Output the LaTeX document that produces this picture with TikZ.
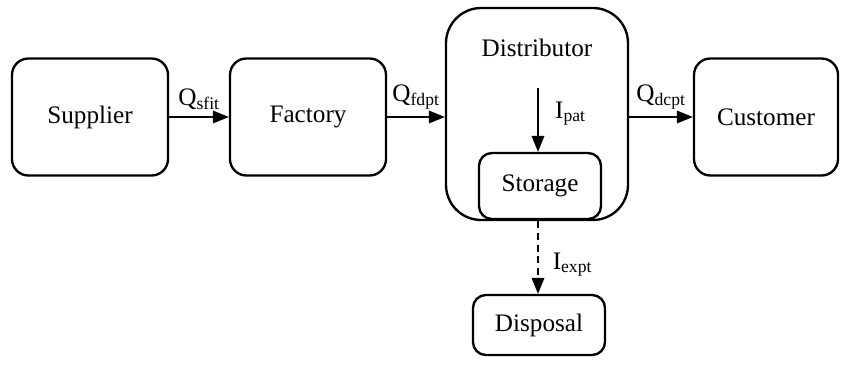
\documentclass[tikz,border=0pt]{standalone}
\usepackage{fontspec}
\setmainfont{Liberation Serif}
\usetikzlibrary{arrows.meta,positioning,calc}
\tikzset{
stage/.style={draw,line width=2pt,rounded corners=14pt,minimum width=4.68cm,minimum height=3.51cm,align=center,font=\fontsize{21.5}{25}\selectfont},
store/.style={draw,line width=2pt,rounded corners=11pt,align=center,font=\fontsize{21.5}{25}\selectfont},
flow/.style={-{Triangle[length=4.8mm,width=3.8mm]},line width=1.2pt},
waste/.style={flow,dashed,dash pattern=on 6pt off 4pt},
qty/.style={font=\fontsize{21.5}{25}\selectfont,inner sep=6pt}
}
\begin{document}
\begin{tikzpicture}
\useasboundingbox (0,0) rectangle (25.38,-10.98);
\node[stage](supplier) at (2.70,-3.51){Supplier};
\node[stage](factory) at (9.24,-3.51){Factory};
\node[stage,minimum width=4.32cm](customer) at (22.98,-3.51){Customer};
\node[stage,rounded corners=30pt,minimum width=5.46cm,minimum height=6.36cm](distributor) at (16.11,-3.42){};
\node[qty,inner sep=2pt](distlbl) at (16.11,-1.44){Distributor};
\node[store,minimum width=3.66cm,minimum height=1.98cm](storage) at (16.20,-5.58){Storage};
\node[store,minimum width=3.96cm,minimum height=1.80cm](disposal) at (16.17,-9.75){Disposal};
\coordinate(pin) at (16.14,-2.64);
\draw[flow](supplier)--node[qty,above]{Q\textsubscript{sfit}}(factory);
\draw[flow](factory)--node[qty,above]{Q\textsubscript{fdpt}}(factory -| distributor.west);
\draw[flow](customer -| distributor.east)--node[qty,above]{Q\textsubscript{dcpt}}(customer);
\draw[flow](pin)--node[qty,right,pos=0.4,xshift=8pt]{I\textsubscript{pat}}(pin |- storage.north);
\draw[waste](pin |- distributor.south)--node[qty,right,pos=0.6,xshift=6pt]{I\textsubscript{expt}}(pin |- disposal.north);
\end{tikzpicture}
\end{document}
